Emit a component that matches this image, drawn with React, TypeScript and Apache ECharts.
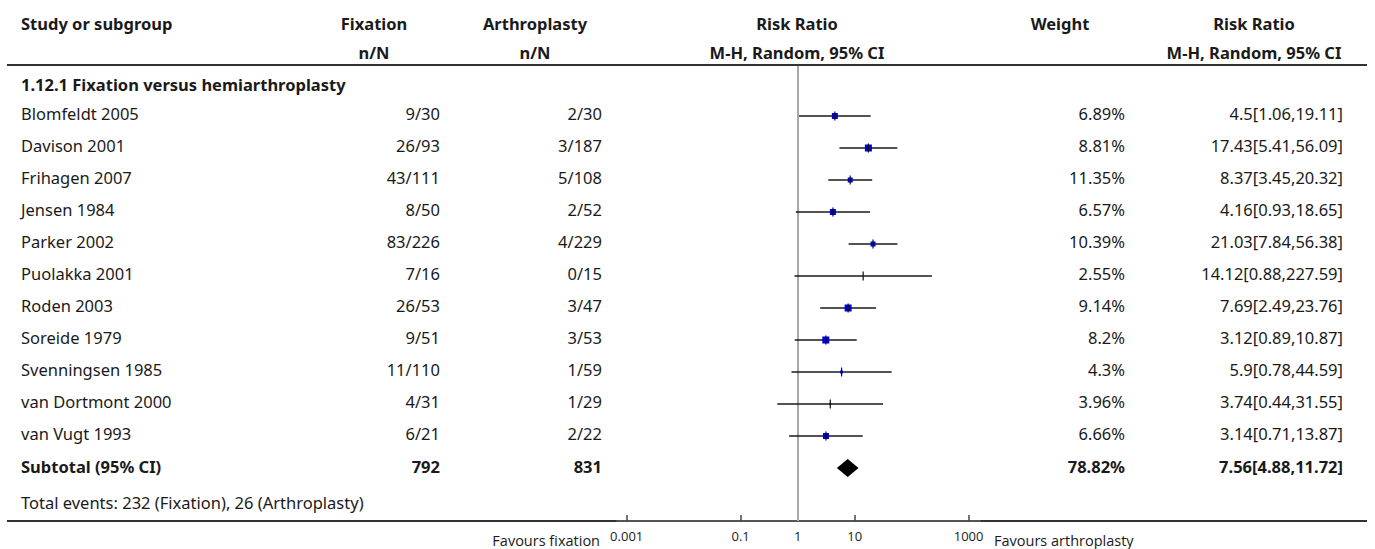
import React, { useEffect, useRef } from "react";
import * as echarts from "echarts";

const studies = [
  "Blomfeldt 2005", "Davison 2001", "Frihagen 2007", "Jensen 1984", "Parker 2002",
  "Puolakka 2001", "Roden 2003", "Soreide 1979", "Svenningsen 1985", "van Dortmont 2000", "van Vugt 1993",
];
const fixationNN = ["9/30", "26/93", "43/111", "8/50", "83/226", "7/16", "26/53", "9/51", "11/110", "4/31", "6/21"];
const arthroNN = ["2/30", "3/187", "5/108", "2/52", "4/229", "0/15", "3/47", "3/53", "1/59", "1/29", "2/22"];
const weights = [6.89, 8.81, 11.35, 6.57, 10.39, 2.55, 9.14, 8.2, 4.3, 3.96, 6.66];
const rr = [4.5, 17.43, 8.37, 4.16, 21.03, 14.12, 7.69, 3.12, 5.9, 3.74, 3.14];
const rrLo = [1.06, 5.41, 3.45, 0.93, 7.84, 0.88, 2.49, 0.89, 0.78, 0.44, 0.71];
const rrHi = [19.11, 56.09, 20.32, 18.65, 56.38, 227.59, 23.76, 10.87, 44.59, 31.55, 13.87];

const subgroupTitle = "1.12.1 Fixation versus hemiarthroplasty";
const subtotalFix = 792;
const subtotalArth = 831;
const subtotalWeight = 78.82;
const subtotalRR = 7.56;
const subtotalLo = 4.88;
const subtotalHi = 11.72;
const eventsFix = 232;
const eventsArth = 26;

const tickLabels = ["0.001", "0.1", "1", "10", "1000"];

// style: marker square sizes (px) as drawn in the reference
const markerSizes = [6, 7, 5, 6, 5, 0, 7, 7, 3, 2, 6];

const FONT = "Noto Sans";
const FS = 16.5;
const AXFONT = "Open Sans";
const TXT = "#1a1a1a";
const ROW0 = 116;
const ROWH = 32;
const GRID_TOP = 66;
const GRID_BOTTOM_Y = 521;
const yMin = -(ROW0 - GRID_TOP) / ROWH;
const yMax = yMin + (GRID_BOTTOM_Y - GRID_TOP) / ROWH;

function rowY(i: number) {
  return ROW0 + ROWH * i;
}

function txt(text: string, x: number, y: number, align: string, bold = false, size = FS, family = FONT) {
  return {
    type: "text",
    x,
    y,
    silent: true,
    style: {
      text,
      fontSize: size,
      fontFamily: family,
      fontWeight: bold ? "bold" : "normal",
      fill: TXT,
      align,
      verticalAlign: "middle",
    },
  };
}

export default function App() {
  const ref = useRef<HTMLDivElement>(null);
  useEffect(() => {
    document.body.style.margin = "0";
    const chart = echarts.init(ref.current!, null, { renderer: "svg" });
    const g: any[] = [];
    // headers
    g.push(txt("Study or subgroup", 21, 23, "left", true));
    g.push(txt("Fixation", 374, 23, "center", true));
    g.push(txt("n/N", 374, 52, "center", true));
    g.push(txt("Arthroplasty", 535, 23, "center", true));
    g.push(txt("n/N", 535, 52, "center", true));
    g.push(txt("Risk Ratio", 797, 23, "center", true));
    g.push(txt("M-H, Random, 95% CI", 797, 52, "center", true));
    g.push(txt("Weight", 1060, 23, "center", true));
    g.push(txt("Risk Ratio", 1254, 23, "center", true));
    g.push(txt("M-H, Random, 95% CI", 1254, 52, "center", true));
    g.push({ type: "line", silent: true, shape: { x1: 7, y1: 65, x2: 1367, y2: 65 }, style: { stroke: "#333", lineWidth: 2 } });
    g.push(txt(subgroupTitle, 21, 84, "left", true));
    studies.forEach((s, i) => {
      const y = rowY(i) - 3;
      g.push(txt(s, 21, y, "left"));
      g.push(txt(fixationNN[i], 440, y, "right"));
      g.push(txt(arthroNN[i], 602, y, "right"));
      g.push(txt(`${weights[i]}%`, 1125, y, "right"));
      g.push(txt(`${rr[i]}[${rrLo[i]},${rrHi[i]}]`, 1343, y, "right"));
    });
    const sy = rowY(studies.length) - 2;
    g.push(txt("Subtotal (95% CI)", 21, sy, "left", true));
    g.push(txt(String(subtotalFix), 440, sy, "right", true));
    g.push(txt(String(subtotalArth), 602, sy, "right", true));
    g.push(txt(`${subtotalWeight}%`, 1125, sy, "right", true));
    g.push(txt(`${subtotalRR}[${subtotalLo},${subtotalHi}]`, 1343, sy, "right", true));
    g.push(txt(`Total events: ${eventsFix} (Fixation), ${eventsArth} (Arthroplasty)`, 21, 502, "left"));
    g.push({ type: "line", silent: true, shape: { x1: 7, y1: 521, x2: 617, y2: 521 }, style: { stroke: "#333", lineWidth: 2 } });
    g.push({ type: "line", silent: true, shape: { x1: 980, y1: 521, x2: 1367, y2: 521 }, style: { stroke: "#333", lineWidth: 2 } });
    g.push(txt("Favours fixation", 600, 540, "right", false, 14.5, AXFONT));
    g.push(txt("Favours arthroplasty", 994, 540, "left", false, 14.5, AXFONT));

    const tickVals = tickLabels.map((t) => Math.log10(Number(t)));
    const studyData = studies.map((_, i) => [i, Math.log10(rr[i]), Math.log10(rrLo[i]), Math.log10(rrHi[i])]);
    const subtotalData = [[studies.length, Math.log10(subtotalRR), Math.log10(subtotalLo), Math.log10(subtotalHi)]];

    chart.setOption({
      animation: false,
      grid: { left: 617, right: 395, top: GRID_TOP, bottom: 549 - GRID_BOTTOM_Y, containLabel: false },
      xAxis: {
        type: "value",
        position: "bottom",
        min: -3.17,
        max: 3.2,
        splitLine: { show: false },
        axisLine: { show: true, onZero: false, lineStyle: { color: "#555", width: 2 } },
        axisTick: { show: true, inside: true, length: 6, customValues: tickVals, lineStyle: { color: "#444", width: 1.5 } },
        axisLabel: {
          show: true,
          customValues: tickVals,
          margin: 8,
          fontSize: 13,
          fontFamily: AXFONT,
          color: TXT,
          formatter: (v: number) => {
            const idx = tickVals.findIndex((t) => Math.abs(t - v) < 1e-9);
            return idx >= 0 ? tickLabels[idx] : "";
          },
        },
      },
      yAxis: { type: "value", inverse: true, min: yMin, max: yMax, show: false },
      series: [
        {
          type: "custom",
          z: 5,
          encode: { x: [1, 2, 3], y: 0 },
          data: studyData,
          renderItem: (params: any, api: any) => {
            const row = api.value(0);
            const pE = api.coord([api.value(1), row]);
            const pL = api.coord([api.value(2), row]);
            const pH = api.coord([api.value(3), row]);
            const s = markerSizes[params.dataIndex];
            const children: any[] = [
              { type: "line", shape: { x1: pL[0], y1: pL[1], x2: pH[0], y2: pH[1] }, style: { stroke: "#1a1a1a", lineWidth: 1.6 } },
            ];
            if (s > 0) {
              children.push({ type: "rect", shape: { x: pE[0] - s / 2, y: pE[1] - s / 2, width: s, height: s }, style: { fill: "#0000dd" } });
            }
            children.push({ type: "line", shape: { x1: pE[0], y1: pE[1] - 4.5, x2: pE[0], y2: pE[1] + 4.5 }, style: { stroke: "#111", lineWidth: 1.2 } });
            return { type: "group", children };
          },
          markLine: {
            silent: true,
            symbol: "none",
            z: 1,
            label: { show: false },
            lineStyle: { color: "#a8a8a8", width: 2, type: "solid" },
            data: [{ xAxis: 0 }],
          },
        },
        {
          type: "custom",
          z: 5,
          encode: { x: [1, 2, 3], y: 0 },
          data: subtotalData,
          renderItem: (params: any, api: any) => {
            const row = api.value(0);
            const pE = api.coord([api.value(1), row]);
            const pL = api.coord([api.value(2), row]);
            const pH = api.coord([api.value(3), row]);
            const h = 9;
            return {
              type: "polygon",
              shape: { points: [[pL[0], pL[1]], [pE[0], pE[1] - h], [pH[0], pH[1]], [pE[0], pE[1] + h]] },
              style: { fill: "#000" },
            };
          },
        },
      ],
      graphic: { elements: g },
    });
    return () => chart.dispose();
  }, []);
  return <div ref={ref} style={{ width: 1375, height: 549 }} />;
}
